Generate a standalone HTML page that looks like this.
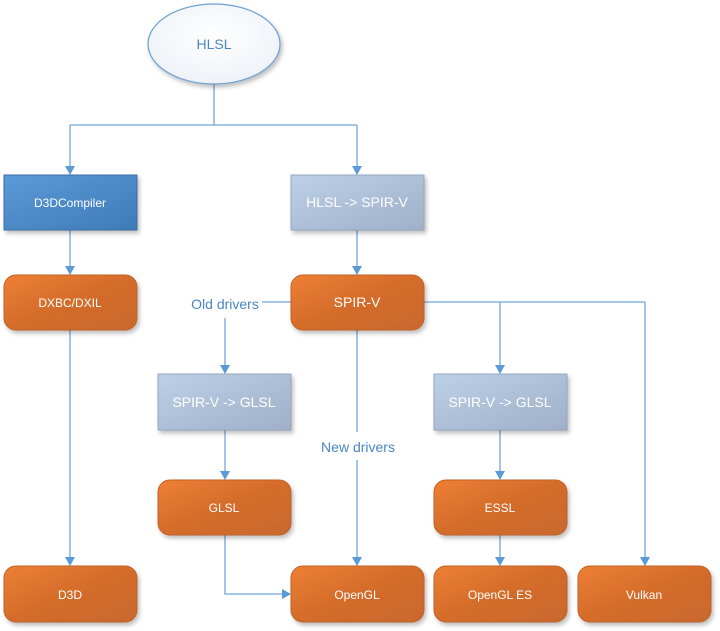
<!DOCTYPE html>
<html><head><meta charset="utf-8"><style>
html,body{margin:0;padding:0;background:#fff;}
svg{display:block;}
text{font-family:"Liberation Sans",sans-serif;}
</style></head><body>
<svg width="720" height="631" viewBox="0 0 720 631" xmlns="http://www.w3.org/2000/svg">
<defs>
<linearGradient id="org" x1="0" y1="0" x2="1" y2="1"><stop offset="0" stop-color="#ee8033"/><stop offset="0.5" stop-color="#d46c2b"/><stop offset="1" stop-color="#c9682e"/></linearGradient>
<linearGradient id="blu" x1="0" y1="0" x2="1" y2="1"><stop offset="0" stop-color="#5b9ad6"/><stop offset="1" stop-color="#3f7ab8"/></linearGradient>
<linearGradient id="gry" x1="0" y1="0" x2="1" y2="1"><stop offset="0" stop-color="#bcd0e8"/><stop offset="1" stop-color="#9fb0c8"/></linearGradient>
<radialGradient id="ell" cx="0.5" cy="0.4" r="0.6"><stop offset="0" stop-color="#ffffff"/><stop offset="1" stop-color="#eef2f8"/></radialGradient>
<marker id="a" markerWidth="10" markerHeight="10" refX="5" refY="8" orient="auto" markerUnits="userSpaceOnUse"><path d="M0,0 L10,0 L5,8z" fill="#5b9ad6" transform="rotate(0)"/></marker>
<filter id="sh" x="-10%" y="-10%" width="125%" height="130%"><feDropShadow dx="2" dy="3" stdDeviation="2" flood-color="#000" flood-opacity="0.25"/></filter>
</defs>
<g stroke="#6fa6dc" stroke-width="1.3" fill="none">
<path d="M214,84 V125 M70,125 H357"/>
<path d="M70,125 V167"/><path d="M357,125 V167"/>
<path d="M70,230 V267"/><path d="M357,230 V267"/>
<path d="M70,330 V558"/>
<path d="M262,302 H291"/>
<path d="M225,318 V366"/>
<path d="M424,302 H645 V558"/>
<path d="M500,302 V366"/>
<path d="M357,330 V432 M357,460 V558"/>
<path d="M225,430 V472"/><path d="M500,430 V472"/>
<path d="M225,535 V594 H283"/>
<path d="M500,535 V558"/>
</g>
<g fill="#5b9ad6">
<path d="M65,166 H75 L70,175z"/><path d="M352,166 H362 L357,175z"/>
<path d="M65,266 H75 L70,275z"/><path d="M352,266 H362 L357,275z"/>
<path d="M65,557 H75 L70,566z"/><path d="M640,557 H650 L645,566z"/>
<path d="M220,365 H230 L225,374z"/><path d="M495,365 H505 L500,374z"/>
<path d="M220,471 H230 L225,480z"/><path d="M495,471 H505 L500,480z"/>
<path d="M352,557 H362 L357,566z"/><path d="M495,557 H505 L500,566z"/>
<path d="M282,589 V599 L291,594z"/>
</g>
<ellipse cx="214" cy="44" rx="66" ry="40" fill="url(#ell)" stroke="#6a9fd3" stroke-width="1.2" filter="url(#sh)"/>
<text x="214" y="49" font-size="14" fill="#4a86c5" text-anchor="middle">HLSL</text>
<g filter="url(#sh)">
<rect x="4" y="175" width="133" height="55" fill="url(#blu)" stroke="#3a6ea5"/>
<rect x="291" y="175" width="133" height="55" fill="url(#gry)" stroke="#95a8c0"/>
<rect x="158" y="374" width="133" height="56" fill="url(#gry)" stroke="#95a8c0"/>
<rect x="434" y="374" width="133" height="56" fill="url(#gry)" stroke="#95a8c0"/>
<rect x="4" y="275" width="133" height="55" rx="12" fill="url(#org)" stroke="#c0622a"/>
<rect x="291" y="275" width="133" height="55" rx="12" fill="url(#org)" stroke="#c0622a"/>
<rect x="158" y="480" width="133" height="55" rx="12" fill="url(#org)" stroke="#c0622a"/>
<rect x="434" y="480" width="133" height="55" rx="12" fill="url(#org)" stroke="#c0622a"/>
<rect x="4" y="566" width="133" height="56" rx="12" fill="url(#org)" stroke="#c0622a"/>
<rect x="291" y="566" width="133" height="56" rx="12" fill="url(#org)" stroke="#c0622a"/>
<rect x="434" y="566" width="133" height="56" rx="12" fill="url(#org)" stroke="#c0622a"/>
<rect x="578" y="566" width="133" height="56" rx="12" fill="url(#org)" stroke="#c0622a"/>
</g>
<g fill="#fff" text-anchor="middle" font-size="12">
<text x="70" y="207">D3DCompiler</text>
<text x="357" y="207" font-size="14">HLSL -&gt; SPIR-V</text>
<text x="224" y="407" font-size="14">SPIR-V -&gt; GLSL</text>
<text x="500" y="407" font-size="14">SPIR-V -&gt; GLSL</text>
<text x="70" y="307">DXBC/DXIL</text>
<text x="357" y="307" font-size="14">SPIR-V</text>
<text x="224" y="512">GLSL</text>
<text x="500" y="512">ESSL</text>
<text x="70" y="599">D3D</text>
<text x="357" y="599">OpenGL</text>
<text x="500" y="599">OpenGL ES</text>
<text x="644" y="599">Vulkan</text>
</g>
<g fill="#4a86c5" font-size="14" text-anchor="middle">
<text x="225" y="309">Old drivers</text>
<text x="358" y="452">New drivers</text>
</g>
</svg>
</body></html>
